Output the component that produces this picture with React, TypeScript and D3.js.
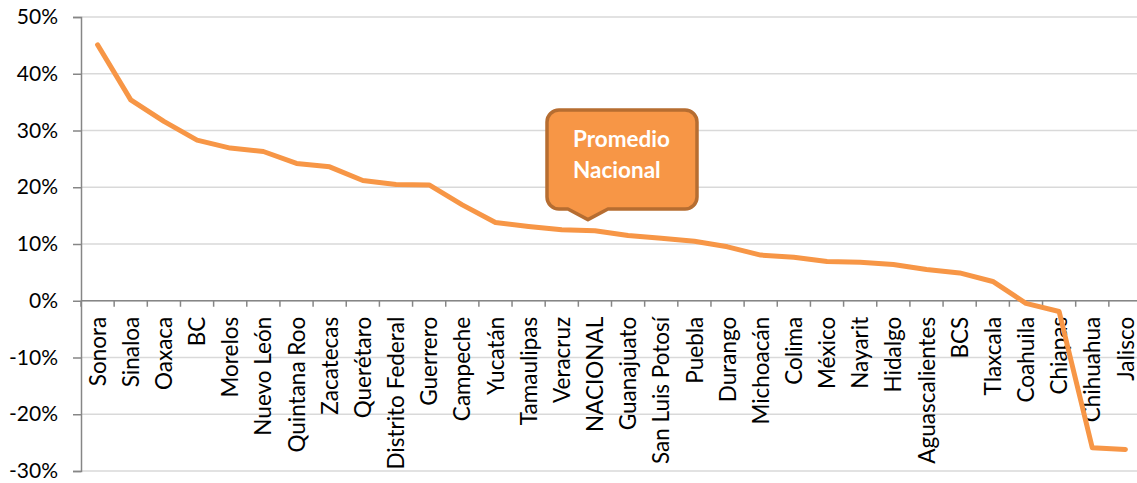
import React, { useEffect, useRef } from 'react';
import * as d3 from 'd3';

// estados, ordenados como en la grafica
const estados = [
  'Sonora', 'Sinaloa', 'Oaxaca', 'BC', 'Morelos', 'Nuevo León', 'Quintana Roo', 'Zacatecas',
  'Querétaro', 'Distrito Federal', 'Guerrero', 'Campeche', 'Yucatán', 'Tamaulipas', 'Veracruz',
  'NACIONAL', 'Guanajuato', 'San Luis Potosí', 'Puebla', 'Durango', 'Michoacán', 'Colima',
  'México', 'Nayarit', 'Hidalgo', 'Aguascalientes', 'BCS', 'Tlaxcala', 'Coahuila', 'Chiapas',
  'Chihuahua', 'Jalisco',
];

// variacion en %
const variacion = [
  45.1, 35.4, 31.6, 28.3, 26.9, 26.3, 24.2, 23.6,
  21.2, 20.5, 20.4, 16.9, 13.8, 13.1, 12.5,
  12.35, 11.5, 11.0, 10.5, 9.5, 8.05, 7.65,
  6.9, 6.8, 6.4, 5.5, 4.9, 3.4, -0.45, -1.9,
  -25.9, -26.2,
];

const yTicks = [-30, -20, -10, 0, 10, 20, 30, 40, 50];

const calloutLines = ['Promedio', 'Nacional'];
const calloutTarget = 'NACIONAL';

const App = () => {
  const svgRef = useRef<SVGSVGElement>(null);
  const width = 1137, height = 483;
  const margin = { top: 17, right: -5, bottom: 12, left: 81 };
  const font = 'Lato, "Open Sans", sans-serif';

  useEffect(() => {
    const svg = d3.select(svgRef.current);
    svg.selectAll('*').remove();

    const x = d3.scaleBand()
      .domain(estados)
      .range([margin.left, width - margin.right])
      .padding(0);

    const y = d3.scaleLinear()
      .domain([-30, 50])
      .range([height - margin.bottom, margin.top]);

    // gridlines
    svg.append('g')
      .selectAll('line')
      .data(yTicks)
      .join('line')
      .attr('x1', margin.left)
      .attr('x2', width)
      .attr('y1', d => y(d))
      .attr('y2', d => y(d))
      .attr('stroke', '#d9d9d9')
      .attr('stroke-width', 1.5);

    // y axis
    const yAxis = svg.append('g')
      .attr('transform', `translate(${margin.left},0)`)
      .call(d3.axisLeft(y).tickValues(yTicks).tickSize(8).tickPadding(15).tickFormat(d => `${d}%`));
    yAxis.select('.domain').attr('stroke', '#868686').attr('stroke-width', 1.5);
    yAxis.selectAll('.tick line').attr('stroke', '#868686').attr('stroke-width', 1.5);
    yAxis.selectAll('.tick text')
      .attr('font-family', font)
      .attr('font-size', 21)
      .attr('fill', '#000');

    // x axis at 0
    const y0 = y(0);
    svg.append('line')
      .attr('x1', margin.left).attr('x2', width)
      .attr('y1', y0).attr('y2', y0)
      .attr('stroke', '#868686').attr('stroke-width', 1.5);

    svg.append('g')
      .selectAll('line')
      .data(estados)
      .join('line')
      .attr('x1', d => x(d)!)
      .attr('x2', d => x(d)!)
      .attr('y1', y0)
      .attr('y2', y0 + 6)
      .attr('stroke', '#868686')
      .attr('stroke-width', 1.5);

    svg.append('g')
      .selectAll('text')
      .data(estados)
      .join('text')
      .attr('transform', d => `translate(${x(d)! + x.bandwidth() / 2},${y0 + 16}) rotate(-90)`)
      .attr('text-anchor', 'end')
      .attr('dy', '0.36em')
      .attr('font-family', font)
      .attr('font-size', 22.5)
      .attr('fill', '#000')
      .text(d => d);

    // line
    const line = d3.line<number>()
      .x((_, i) => x(estados[i])! + x.bandwidth() / 2)
      .y(d => y(d));

    svg.append('path')
      .datum(variacion)
      .attr('d', line)
      .attr('fill', 'none')
      .attr('stroke', '#f79646')
      .attr('stroke-width', 5)
      .attr('stroke-linejoin', 'round')
      .attr('stroke-linecap', 'round');

    // callout
    const idx = estados.indexOf(calloutTarget);
    const tipX = x(calloutTarget)! + x.bandwidth() / 2 - 7;
    const tipY = y(variacion[idx]) - 11;
    const bx0 = 547, bx1 = 697, by0 = 110, by1 = 209, r = 12;
    const p = d3.path();
    p.moveTo(bx0 + r, by0);
    p.lineTo(bx1 - r, by0);
    p.arcTo(bx1, by0, bx1, by0 + r, r);
    p.lineTo(bx1, by1 - r);
    p.arcTo(bx1, by1, bx1 - r, by1, r);
    p.lineTo(tipX + 20, by1);
    p.lineTo(tipX, tipY);
    p.lineTo(tipX - 20, by1);
    p.lineTo(bx0 + r, by1);
    p.arcTo(bx0, by1, bx0, by1 - r, r);
    p.lineTo(bx0, by0 + r);
    p.arcTo(bx0, by0, bx0 + r, by0, r);
    p.closePath();
    svg.append('path')
      .attr('d', p.toString())
      .attr('fill', '#f79646')
      .attr('stroke', '#b66d31')
      .attr('stroke-width', 3.5)
      .attr('stroke-linejoin', 'round');

    svg.append('text')
      .attr('x', 573)
      .attr('y', 147)
      .attr('font-family', font)
      .attr('font-size', 22.5)
      .attr('font-weight', 'bold')
      .attr('fill', '#fff')
      .selectAll('tspan')
      .data(calloutLines)
      .join('tspan')
      .attr('x', 573)
      .attr('dy', (_, i) => (i === 0 ? 0 : 31))
      .text(d => d);
  }, []);

  return (
    <svg
      ref={svgRef}
      width={width}
      height={height}
      style={{ position: 'absolute', left: 0, top: 0, background: '#fff' }}
    />
  );
};

export default App;
